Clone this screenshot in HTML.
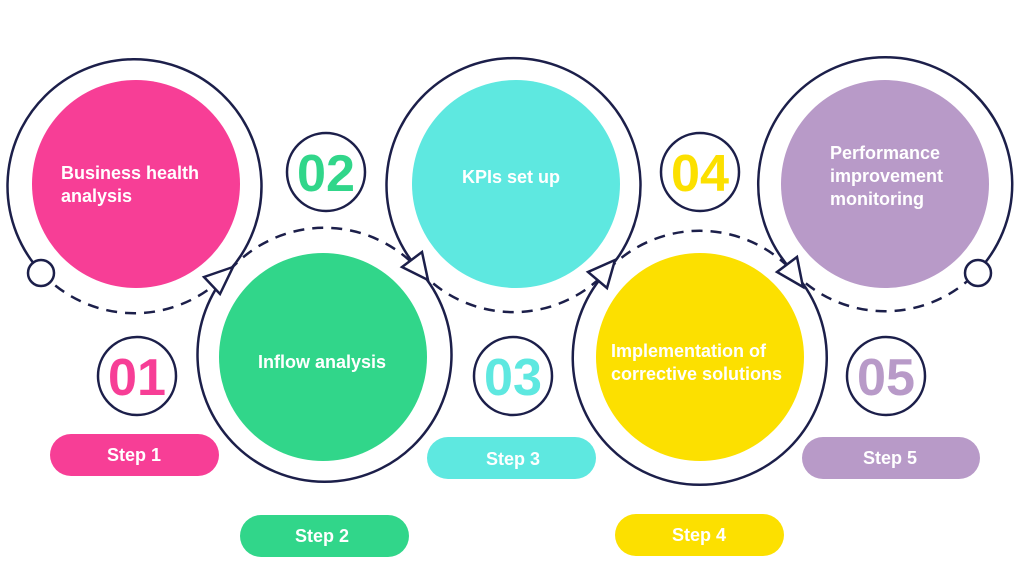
<!DOCTYPE html>
<html><head><meta charset="utf-8"><style>
html,body{margin:0;padding:0;background:#fff;}
svg{display:block;}
text{font-family:"Liberation Sans",Arial,sans-serif;font-weight:bold;}
</style></head><body>
<svg width="1024" height="585" viewBox="0 0 1024 585" xmlns="http://www.w3.org/2000/svg">
<rect width="1024" height="585" fill="#fff"/>
<circle cx="136" cy="184" r="104" fill="#f73e96"/>
<circle cx="323" cy="357" r="104" fill="#31d68a"/>
<circle cx="516" cy="184" r="104" fill="#5ee8e0"/>
<circle cx="700" cy="357" r="104" fill="#fce000"/>
<circle cx="885" cy="184" r="104" fill="#b89ac8"/>
<g fill="none" stroke="#1c1f4a" stroke-width="2.5">
<path d="M41.4 272.6 A127 127 0 1 1 229.5 270.5"/>
<path d="M41.4 272.6 A127 127 0 0 0 229.5 270.5" stroke-dasharray="11 8"/>
<path d="M229.5 270.5 A127 127 0 1 0 419.5 270.5"/>
<path d="M229.5 270.5 A127 127 0 0 1 419.5 270.5" stroke-dasharray="11 8"/>
<path d="M419.5 270.5 A127 127 0 1 1 607.5 270.5"/>
<path d="M419.5 270.5 A127 127 0 0 0 607.5 270.5" stroke-dasharray="11 8"/>
<path d="M607.5 270.5 A127 127 0 1 0 792 270.5"/>
<path d="M607.5 270.5 A127 127 0 0 1 792 270.5" stroke-dasharray="11 8"/>
<path d="M792 270.5 A127 127 0 1 1 977.5 271.5"/>
<path d="M792 270.5 A127 127 0 0 0 977.5 271.5" stroke-dasharray="11 8"/>
</g>
<circle cx="41" cy="273" r="13" fill="#fff" stroke="#1c1f4a" stroke-width="2.5"/>
<circle cx="978" cy="273" r="13" fill="#fff" stroke="#1c1f4a" stroke-width="2.5"/>
<g fill="#fff" stroke="#1c1f4a" stroke-width="2.5" stroke-linejoin="miter">
<polygon points="233,267 204,277 220,294"/>
<polygon points="428,280 422,252 402,267"/>
<polygon points="615,260 588,272 607,288"/>
<polygon points="803,287 797,257 777,272"/>
</g>
<g fill="#fff" stroke="#1c1f4a" stroke-width="2.5">
<circle cx="326" cy="172" r="39"/>
<circle cx="137" cy="376" r="39"/>
<circle cx="513" cy="376" r="39"/>
<circle cx="700" cy="172" r="39"/>
<circle cx="886" cy="376" r="39"/>
</g>
<g font-size="52" text-anchor="middle">
<text x="326" y="191" fill="#31d68a" textLength="58" lengthAdjust="spacingAndGlyphs">02</text>
<text x="137" y="395" fill="#f73e96" textLength="58" lengthAdjust="spacingAndGlyphs">01</text>
<text x="513" y="395" fill="#5ee8e0" textLength="58" lengthAdjust="spacingAndGlyphs">03</text>
<text x="700" y="191" fill="#fce000" textLength="58" lengthAdjust="spacingAndGlyphs">04</text>
<text x="886" y="395" fill="#b89ac8" textLength="58" lengthAdjust="spacingAndGlyphs">05</text>
</g>
<g font-size="18" fill="#fff">
<text x="61" y="179">Business health</text>
<text x="61" y="202">analysis</text>
<text x="322" y="368" text-anchor="middle">Inflow analysis</text>
<text x="511" y="183" text-anchor="middle">KPIs set up</text>
<text x="611" y="357">Implementation of</text>
<text x="611" y="380">corrective solutions</text>
<text x="830" y="159">Performance</text>
<text x="830" y="182">improvement</text>
<text x="830" y="205">monitoring</text>
</g>
<rect x="50" y="434" width="169" height="42" rx="21" fill="#f73e96"/>
<rect x="240" y="515" width="169" height="42" rx="21" fill="#31d68a"/>
<rect x="427" y="437" width="169" height="42" rx="21" fill="#5ee8e0"/>
<rect x="615" y="514" width="169" height="42" rx="21" fill="#fce000"/>
<rect x="802" y="437" width="178" height="42" rx="21" fill="#b89ac8"/>
<g font-size="18" fill="#fff" text-anchor="middle">
<text x="134" y="461">Step 1</text>
<text x="322" y="542">Step 2</text>
<text x="513" y="465">Step 3</text>
<text x="699" y="541">Step 4</text>
<text x="890" y="464">Step 5</text>
</g>
</svg>
</body></html>
